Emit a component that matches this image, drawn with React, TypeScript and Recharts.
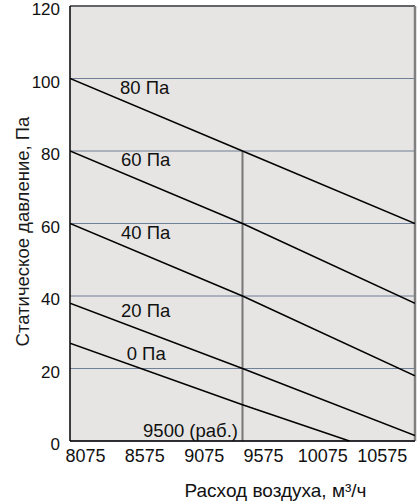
import React from 'react';
import { ComposedChart, Line, Scatter, XAxis, YAxis, CartesianGrid, ReferenceLine } from 'recharts';

// Air flow, m³/h (points along each pressure curve)
const flowX = [8000, 9500, 11000];
const flow0X = [8000, 9500, 10430];
// Static pressure for each curve, Pa
const p80 = [100, 80, 60];
const p60 = [80, 60, 38];
const p40 = [60, 40, 18];
const p20 = [38, 20, 1.5];
const p0 = [27, 10, 0];
// Working point
const workFlow = 9500;
const workPressure = 80;
// Axis ticks
const xTicks = [8075, 8575, 9075, 9575, 10075, 10575];
const yTicks = [0, 20, 40, 60, 80, 100, 120];
// Curve labels
const labelText = ['80 Па', '60 Па', '40 Па', '20 Па', '0 Па'];
const labelX = [8435, 8443, 8443, 8443, 8493];
const labelY = [95.8, 75.8, 55.8, 34.2, 22.3];
const workLabel = ['9500 (раб.)'];
const workLabelX = [9461];
const workLabelY = [1.2];

const toPts = (xs: number[], ys: number[]) => xs.map((x, i) => ({ x, y: ys[i] }));

const curves = [
  { key: 'p80', data: toPts(flowX, p80) },
  { key: 'p60', data: toPts(flowX, p60) },
  { key: 'p40', data: toPts(flowX, p40) },
  { key: 'p20', data: toPts(flowX, p20) },
  { key: 'p0', data: toPts(flow0X, p0) },
];
const workLine = [
  { x: workFlow, y: 0 },
  { x: workFlow, y: workPressure },
];
const tickAnchor = xTicks.map((x) => ({ x, y: 0 }));
const labelPts = labelText.map((t, i) => ({ x: labelX[i], y: labelY[i], label: t }));
const workLabelPts = workLabel.map((t, i) => ({ x: workLabelX[i], y: workLabelY[i], label: t }));

const FONT = '"Liberation Sans", Arial, Helvetica, sans-serif';

export default function App() {
  return (
    <div style={{ position: 'absolute', left: 0, top: 0, background: '#fff' }}>
      <ComposedChart width={420} height={504} margin={{ top: 6, right: 5, bottom: 0, left: 0 }}>
        <CartesianGrid
          xAxisId="data"
          vertical={false}
          horizontal
          stroke="#6f7f98"
          strokeWidth={1}
          fill="#e6e5e3"
        />
        <XAxis
          xAxisId="data"
          orientation="top"
          dataKey="x"
          type="number"
          domain={[8000, 11000]}
          hide
          allowDataOverflow
        />
        <XAxis
          xAxisId="lbl"
          dataKey="x"
          type="number"
          domain={[7945, 10851]}
          ticks={xTicks}
          allowDataOverflow
          interval={0}
          height={63}
          tickLine={false}
          tickSize={0}
          tickMargin={8}
          axisLine={{ stroke: '#000', strokeWidth: 1.5 }}
          tick={{ fontSize: 18, fill: '#111', fontFamily: FONT }}
          label={{
            value: 'Расход воздуха, м³/ч',
            position: 'insideBottom',
            offset: 7,
            dx: 33,
            style: { fontSize: 19, fill: '#111', fontFamily: FONT },
          }}
        />
        <YAxis
          dataKey="y"
          type="number"
          domain={[0, 120]}
          ticks={yTicks}
          interval={0}
          width={70}
          tickLine={false}
          tickSize={0}
          tickMargin={10}
          axisLine={{ stroke: '#000', strokeWidth: 1.5 }}
          tick={{ fontSize: 17, fill: '#111', fontFamily: FONT, dy: 3 }}
          label={{
            value: 'Статическое давление, Па',
            angle: -90,
            position: 'insideLeft',
            offset: 22,
            dy: 8,
            style: { textAnchor: 'middle', fontSize: 18.5, fill: '#1a1a1a', fontFamily: FONT },
          }}
        />
        <ReferenceLine xAxisId="data" y={120} stroke="#4a4a4a" strokeWidth={1.6} />
        <ReferenceLine xAxisId="data" x={11000} stroke="#808080" strokeWidth={2.5} />
        <Line
          xAxisId="lbl"
          data={tickAnchor}
          dataKey="y"
          stroke="none"
          dot={false}
          activeDot={false}
          isAnimationActive={false}
          legendType="none"
        />
        <Line
          xAxisId="data"
          data={workLine}
          dataKey="y"
          stroke="#777"
          strokeWidth={2}
          dot={false}
          isAnimationActive={false}
          legendType="none"
        />
        {curves.map((c) => (
          <Line
            key={c.key}
            xAxisId="data"
            data={c.data}
            dataKey="y"
            stroke="#000"
            strokeWidth={1.5}
            dot={false}
            isAnimationActive={false}
          />
        ))}
        <Scatter
          xAxisId="data"
          data={labelPts}
          dataKey="y"
          isAnimationActive={false}
          shape={(p: any) => (
            <text x={p.cx} y={p.cy} textAnchor="start" fontSize={18.5} fill="#111" fontFamily={FONT}>
              {p.payload.label}
            </text>
          )}
        />
        <Scatter
          xAxisId="data"
          data={workLabelPts}
          dataKey="y"
          isAnimationActive={false}
          shape={(p: any) => (
            <text x={p.cx} y={p.cy} textAnchor="end" fontSize={18.5} fill="#111" fontFamily={FONT}>
              {p.payload.label}
            </text>
          )}
        />
      </ComposedChart>
    </div>
  );
}
